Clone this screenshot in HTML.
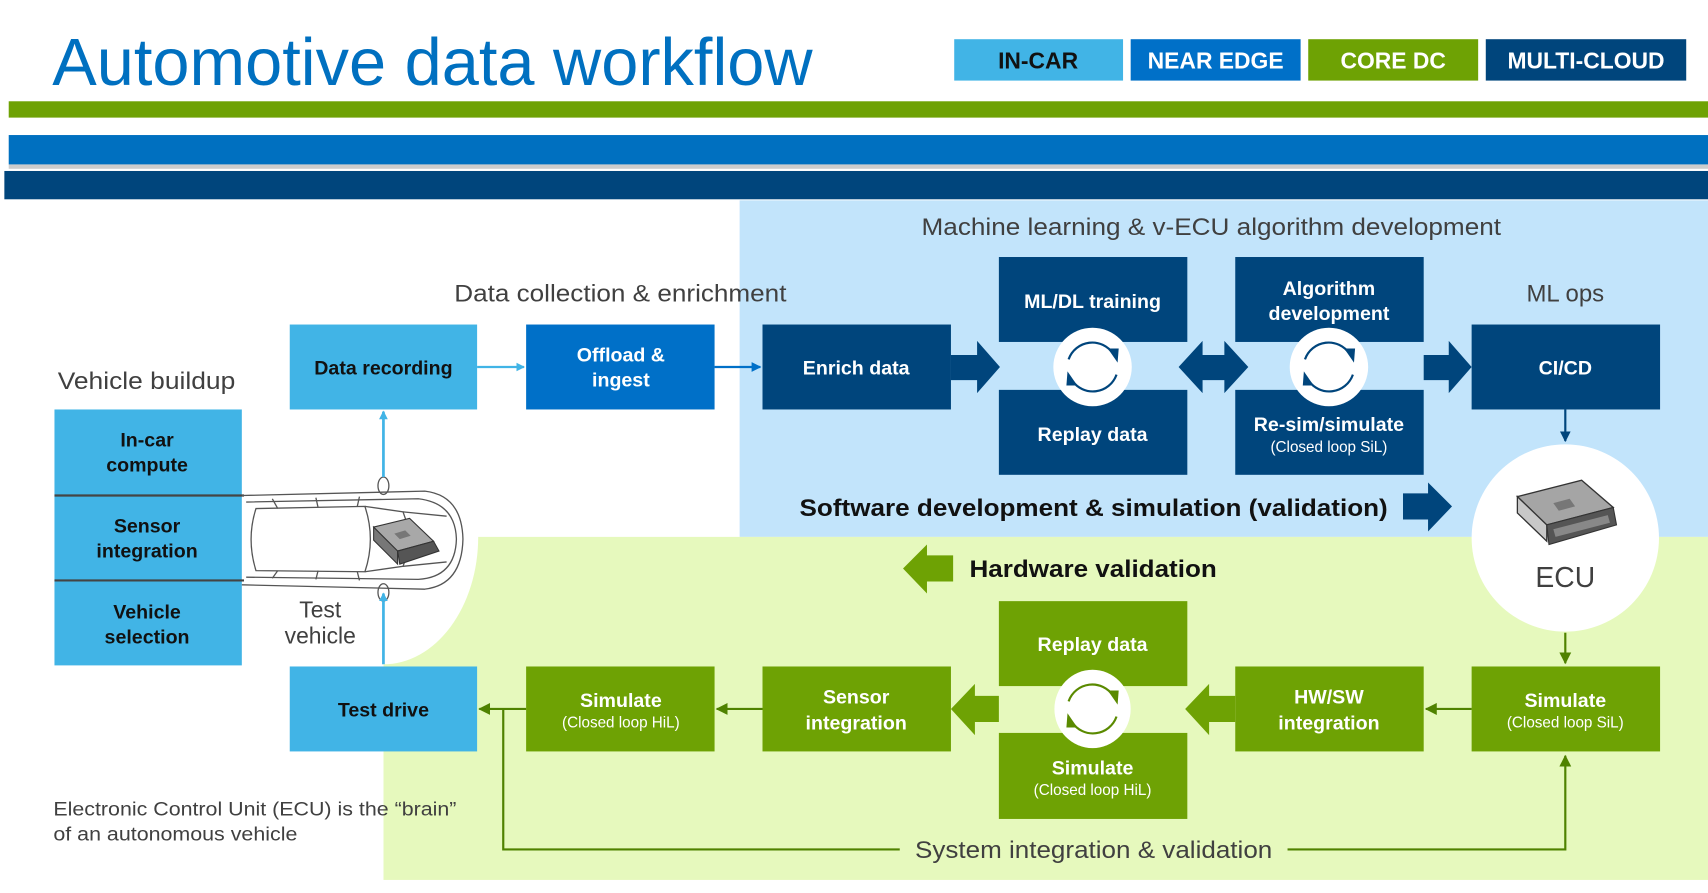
<!DOCTYPE html>
<html><head><meta charset="utf-8"><style>
html,body{margin:0;padding:0;background:#fff;overflow:hidden}
svg{display:block}
text{font-family:"Liberation Sans",Arial,sans-serif}
</style></head><body>
<svg width="1708" height="893" viewBox="0 0 1568 820" preserveAspectRatio="none" xmlns="http://www.w3.org/2000/svg">
<defs>
<marker id="ab" markerWidth="8" markerHeight="8" refX="7" refY="4" orient="auto" markerUnits="userSpaceOnUse"><path d="M0,0 L8,4 L0,8 z" fill="#41b4e6"/></marker>
<marker id="am" markerWidth="9" markerHeight="9" refX="8" refY="4.5" orient="auto" markerUnits="userSpaceOnUse"><path d="M0,0 L9,4.5 L0,9 z" fill="#0070c8"/></marker>
<marker id="an" markerWidth="10" markerHeight="10" refX="9" refY="5" orient="auto" markerUnits="userSpaceOnUse"><path d="M0,0 L10,5 L0,10 z" fill="#00457c"/></marker>
<marker id="ag" markerWidth="11" markerHeight="11" refX="10" refY="5.5" orient="auto" markerUnits="userSpaceOnUse"><path d="M0,0 L11,5.5 L0,11 z" fill="#4f8200"/></marker>
</defs>

<!-- header -->
<text x="48" y="78" font-size="61" fill="#0070c0" textLength="698" lengthAdjust="spacingAndGlyphs">Automotive data workflow</text>
<rect x="876" y="36" width="155" height="38" fill="#41b4e6"/>
<text x="953" y="63" font-size="21" font-weight="bold" fill="#111" text-anchor="middle">IN-CAR</text>
<rect x="1038" y="36" width="156" height="38" fill="#0070c8"/>
<text x="1116" y="63" font-size="21" font-weight="bold" fill="#fff" text-anchor="middle">NEAR EDGE</text>
<rect x="1201" y="36" width="156" height="38" fill="#6ea204"/>
<text x="1279" y="63" font-size="21" font-weight="bold" fill="#fff" text-anchor="middle">CORE DC</text>
<rect x="1364" y="36" width="184" height="38" fill="#00457c"/>
<text x="1456" y="63" font-size="21" font-weight="bold" fill="#fff" text-anchor="middle">MULTI-CLOUD</text>
<rect x="8" y="93" width="1560" height="15" fill="#6ea204"/>
<rect x="8" y="124" width="1560" height="27" fill="#0070c0"/>
<rect x="8" y="151" width="1560" height="4" fill="#ccc"/>
<rect x="4" y="157" width="1564" height="26" fill="#00457c"/>

<!-- background regions -->
<rect x="679" y="184" width="889" height="309" fill="#c2e4fb"/>
<rect x="352" y="493" width="1216" height="315" fill="#e6f9bd"/>
<ellipse cx="352" cy="493" rx="87" ry="117" fill="#fff"/>
<rect x="300" y="493" width="52" height="320" fill="#fff"/>

<!-- labels -->
<text x="846" y="216" font-size="22" fill="#404040" textLength="532" lengthAdjust="spacingAndGlyphs">Machine learning &amp; v-ECU algorithm development</text>
<text x="417" y="277" font-size="22" fill="#404040" textLength="305" lengthAdjust="spacingAndGlyphs">Data collection &amp; enrichment</text>
<text x="1437" y="277" font-size="22" fill="#404040" text-anchor="middle">ML ops</text>
<text x="53" y="357" font-size="22" fill="#404040" textLength="163" lengthAdjust="spacingAndGlyphs">Vehicle buildup</text>

<!-- vehicle buildup stack -->
<rect x="50" y="376" width="172" height="235" fill="#41b4e6"/>
<line x1="50" y1="455" x2="224" y2="455" stroke="#444" stroke-width="2"/>
<line x1="50" y1="533" x2="224" y2="533" stroke="#444" stroke-width="2"/>
<g font-size="18" font-weight="bold" fill="#111" text-anchor="middle">
<text x="135" y="410">In-car</text><text x="135" y="433">compute</text>
<text x="135" y="489">Sensor</text><text x="135" y="512">integration</text>
<text x="135" y="568">Vehicle</text><text x="135" y="591">selection</text>
</g>

<!-- car -->
<g fill="none" stroke="#555" stroke-width="1.2">
<path d="M222,455 L390,451 Q424,455 425,495 Q424,537 390,541 L222,537"/>
<path d="M226,461 L384,458 Q418,462 419,495 Q418,530 384,532 L226,530"/>
<path d="M235,467 L335,465 Q345,495 335,525 L235,524 Q226,495 235,467z"/>
<path d="M335,465 L370,470 Q380,495 370,520 L335,525"/>
<path d="M250,458 L255,467 M290,457 L292,466 M330,456 L328,465 M250,531 L255,524 M290,532 L292,524 M330,533 L328,525"/>
<path d="M370,470 L410,474 M370,520 L410,516"/>
<ellipse cx="352" cy="446" rx="5" ry="8"/><ellipse cx="352" cy="544" rx="5" ry="8"/>
</g>
<g>
<path d="M343,484 L376,476 L398,497 L365,506z" fill="#a8a8a8" stroke="#333" stroke-width="1"/>
<path d="M343,484 L343,496 L365,518 L365,506z" fill="#777" stroke="#333" stroke-width="1"/>
<path d="M365,506 L398,497 L403,506 L367,518z" fill="#555" stroke="#333" stroke-width="1"/>
<path d="M362,490 L372,487 L377,492 L367,495z" fill="#777"/>
</g>
<text x="294" y="567" font-size="21" fill="#404040" text-anchor="middle">Test</text>
<text x="294" y="591" font-size="21" fill="#404040" text-anchor="middle">vehicle</text>

<!-- light blue boxes -->
<rect x="266" y="298" width="172" height="78" fill="#41b4e6"/>
<text x="352" y="344" font-size="18" font-weight="bold" fill="#111" text-anchor="middle">Data recording</text>
<rect x="266" y="612" width="172" height="78" fill="#41b4e6"/>
<text x="352" y="658" font-size="18" font-weight="bold" fill="#111" text-anchor="middle">Test drive</text>
<line x1="352" y1="438" x2="352" y2="378" stroke="#41b4e6" stroke-width="2.5" marker-end="url(#ab)"/>
<line x1="352" y1="610" x2="352" y2="545" stroke="#41b4e6" stroke-width="2.5" marker-end="url(#ab)"/>
<line x1="438" y1="337" x2="481" y2="337" stroke="#41b4e6" stroke-width="2" marker-end="url(#ab)"/>

<rect x="483" y="298" width="173" height="78" fill="#0070c8"/>
<text x="570" y="332" font-size="18" font-weight="bold" fill="#fff" text-anchor="middle">Offload &amp;</text>
<text x="570" y="355" font-size="18" font-weight="bold" fill="#fff" text-anchor="middle">ingest</text>
<line x1="656" y1="337" x2="698" y2="337" stroke="#0070c8" stroke-width="2" marker-end="url(#am)"/>

<!-- navy boxes -->
<g fill="#00457c">
<rect x="700" y="298" width="173" height="78"/>
<rect x="917" y="236" width="173" height="78"/>
<rect x="917" y="358" width="173" height="78"/>
<rect x="1134" y="236" width="173" height="78"/>
<rect x="1134" y="358" width="173" height="78"/>
<rect x="1351" y="298" width="173" height="78"/>
<path d="M873,326 L897,326 L897,313 L918,337 L897,361 L897,349 L873,349z"/>
<path d="M1082,337 L1104,313 L1104,326 L1124,326 L1124,313 L1146,337 L1124,361 L1124,349 L1104,349 L1104,361z"/>
<path d="M1307,326 L1330,326 L1330,313 L1351,337 L1330,361 L1330,349 L1307,349z"/>
<path d="M1288,453 L1311,453 L1311,443 L1333,465 L1311,488 L1311,477 L1288,477z"/>
</g>
<g font-size="18" font-weight="bold" fill="#fff" text-anchor="middle">
<text x="1003" y="283">ML/DL training</text>
<text x="1003" y="405">Replay data</text>
<text x="1220" y="271">Algorithm</text><text x="1220" y="294">development</text>
<text x="1220" y="396">Re-sim/simulate</text>
<text x="1437" y="344">CI/CD</text>
<text x="786" y="344">Enrich data</text>
</g>
<text x="1220" y="415" font-size="14" fill="#fff" text-anchor="middle">(Closed loop SiL)</text>
<line x1="1437" y1="376" x2="1437" y2="405" stroke="#00457c" stroke-width="2" marker-end="url(#an)"/>

<text x="734" y="474" font-size="22" font-weight="bold" fill="#111" textLength="540" lengthAdjust="spacingAndGlyphs">Software development &amp; simulation (validation)</text>

<!-- cycle icons -->
<g id="cyc">
<ellipse cx="1003" cy="337" rx="36" ry="36" fill="#fff"/>
<path d="M981,330 A23,23 0 0 1 1022,325" fill="none" stroke="#00457c" stroke-width="2"/>
<path d="M1025,344 A23,23 0 0 1 984,349" fill="none" stroke="#00457c" stroke-width="2"/>
<path d="M1017,320 L1027,320 L1026,333z" fill="#00457c"/>
<path d="M989,354 L979,354 L980,341z" fill="#00457c"/>
</g>
<use href="#cyc" x="217" y="0"/>

<!-- ECU circle -->
<circle cx="1437" cy="494" r="86" fill="#fff"/>
<path d="M1393,456 L1452,441 L1481,466 L1420,482z" fill="#a5a5a5" stroke="#333" stroke-width="1.2"/>
<path d="M1393,456 L1393,471 L1420,497 L1420,482z" fill="#c8c8c8" stroke="#333" stroke-width="1.2"/>
<path d="M1420,482 L1481,466 L1484,482 L1422,500z" fill="#555" stroke="#333" stroke-width="1"/>
<path d="M1426,486 L1476,473 L1478,480 L1428,493z" fill="#888"/>
<path d="M1426,462 L1441,458 L1446,465 L1431,469z" fill="#777"/>
<text x="1437" y="539" font-size="26" fill="#404040" text-anchor="middle">ECU</text>
<line x1="1437" y1="581" x2="1437" y2="609" stroke="#4f8200" stroke-width="2" marker-end="url(#ag)"/>

<!-- hardware validation -->
<path d="M875,510 L851,510 L851,500 L829,522 L851,545 L851,534 L875,534z" fill="#6ea204"/>
<text x="890" y="530" font-size="22" font-weight="bold" fill="#111" textLength="227" lengthAdjust="spacingAndGlyphs">Hardware validation</text>

<!-- green boxes -->
<g fill="#6ea204">
<rect x="917" y="552" width="173" height="78"/>
<rect x="917" y="673" width="173" height="79"/>
<rect x="1134" y="612" width="173" height="78"/>
<rect x="1351" y="612" width="173" height="78"/>
<rect x="700" y="612" width="173" height="78"/>
<rect x="483" y="612" width="173" height="78"/>
<path d="M1134,639 L1110,639 L1110,628 L1088,651 L1110,675 L1110,663 L1134,663z"/>
<path d="M917,639 L895,639 L895,628 L873,651 L895,675 L895,663 L917,663z"/>
</g>
<ellipse cx="1003" cy="651" rx="35" ry="36" fill="#fff"/>
<path d="M981,644 A23,23 0 0 1 1022,639" fill="none" stroke="#5a8a00" stroke-width="2"/>
<path d="M1025,658 A23,23 0 0 1 984,663" fill="none" stroke="#5a8a00" stroke-width="2"/>
<path d="M1017,634 L1027,634 L1026,647z" fill="#5a8a00"/>
<path d="M989,668 L979,668 L980,655z" fill="#5a8a00"/>
<g font-size="18" font-weight="bold" fill="#fff" text-anchor="middle">
<text x="1003" y="598">Replay data</text>
<text x="1003" y="711">Simulate</text>
<text x="1220" y="646">HW/SW</text><text x="1220" y="670">integration</text>
<text x="1437" y="649">Simulate</text>
<text x="786" y="646">Sensor</text><text x="786" y="670">integration</text>
<text x="570" y="649">Simulate</text>
</g>
<g font-size="14" fill="#fff" text-anchor="middle">
<text x="1003" y="730">(Closed loop HiL)</text>
<text x="1437" y="668">(Closed loop SiL)</text>
<text x="570" y="668">(Closed loop HiL)</text>
</g>
<g stroke="#4f8200" stroke-width="2" fill="none">
<line x1="1351" y1="651" x2="1309" y2="651" marker-end="url(#ag)"/>
<line x1="700" y1="651" x2="658" y2="651" marker-end="url(#ag)"/>
<line x1="483" y1="651" x2="440" y2="651" marker-end="url(#ag)"/>
<polyline points="462,651 462,780 826,780"/>
<polyline points="1182,780 1437,780 1437,694" marker-end="url(#ag)"/>
</g>
<text x="840" y="788" font-size="22" fill="#404040" textLength="328" lengthAdjust="spacingAndGlyphs">System integration &amp; validation</text>

<text x="49" y="749" font-size="18" fill="#404040" textLength="370" lengthAdjust="spacingAndGlyphs">Electronic Control Unit (ECU) is the “brain”</text>
<text x="49" y="772" font-size="18" fill="#404040" textLength="224" lengthAdjust="spacingAndGlyphs">of an autonomous vehicle</text>
</svg>
</body></html>
